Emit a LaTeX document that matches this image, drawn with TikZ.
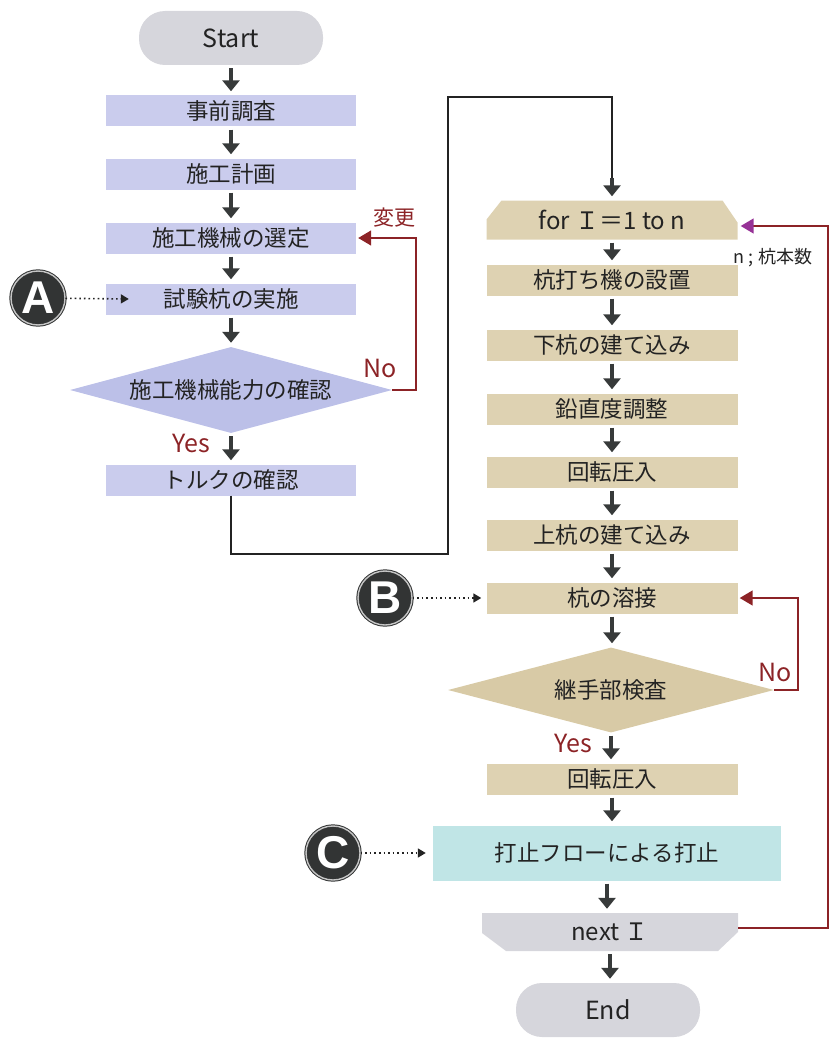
\documentclass[tikz,border=0pt]{standalone}
\usepackage{fontspec}
\setmainfont{Noto Sans CJK JP}
\newfontfamily\markfont{Liberation Sans}
\usetikzlibrary{arrows.meta,shapes.geometric}

\definecolor{inkdark}{RGB}{35,35,35}
\definecolor{arrowdark}{RGB}{55,58,58}
\definecolor{lavender}{RGB}{202,204,237}
\definecolor{lavdeep}{RGB}{188,192,232}
\definecolor{sand}{RGB}{222,210,178}
\definecolor{sanddeep}{RGB}{216,202,166}
\definecolor{aqua}{RGB}{192,229,230}
\definecolor{termgray}{RGB}{214,214,220}
\definecolor{redbrown}{RGB}{140,35,38}
\definecolor{violet}{RGB}{150,50,150}
\definecolor{markdark}{RGB}{50,52,52}

\begin{document}
\begin{tikzpicture}[x=1pt,y=-1pt,
    every node/.style={text=inkdark, font=\fontsize{22.5}{25}\selectfont},
    terminal/.style={rectangle, rounded corners=26pt, fill=termgray, minimum width=184pt,
      minimum height=54pt, font=\fontsize{25}{28}\selectfont},
    prepbox/.style={rectangle, fill=lavender, minimum width=250pt, minimum height=31pt, inner sep=0pt},
    pilebox/.style={rectangle, fill=sand, minimum width=251pt, minimum height=31pt, inner sep=0pt},
    decide/.style={diamond, aspect=3.75, inner sep=0pt, minimum width=322pt, minimum height=86pt},
    loopfor/.style={rectangle, minimum width=251pt, minimum height=39pt, inner sep=0pt,
      font=\fontsize{24}{27}\selectfont,
      path picture={\fill[sand] ([yshift=-19pt]path picture bounding box.north west)
        -- ([xshift=15pt]path picture bounding box.north west)
        -- ([xshift=-15pt]path picture bounding box.north east)
        -- ([yshift=-22pt]path picture bounding box.north east)
        -- (path picture bounding box.south east) -- (path picture bounding box.south west) -- cycle;}},
    loopnext/.style={rectangle, minimum width=256pt, minimum height=38pt, inner sep=0pt,
      font=\fontsize{24}{27}\selectfont,
      path picture={\fill[termgray] (path picture bounding box.north west)
        -- (path picture bounding box.north east)
        -- ([yshift=19pt]path picture bounding box.south east)
        -- ([xshift=-20pt]path picture bounding box.south east)
        -- ([xshift=24pt]path picture bounding box.south west)
        -- ([yshift=18pt]path picture bounding box.south west) -- cycle;}},
    marker/.style={circle, fill=markdark, draw=markdark, double=gray!45, double distance=1.4pt,
      line width=1pt, minimum size=54pt, inner sep=0pt, text=white,
      font=\markfont\bfseries\fontsize{46}{46}\selectfont},
    answer/.style={text=redbrown, font=\fontsize{25}{28}\selectfont},
    flow/.style={draw=arrowdark, line width=4.5pt, -{Triangle[width=17pt,length=11pt]},
      shorten <=3pt, shorten >=4pt},
    retry/.style={draw=redbrown, line width=1.5pt, -{Triangle[width=15pt,length=13pt]}, shorten >=2pt},
    pointer/.style={draw=inkdark, line width=1.6pt, dash pattern=on 1.6pt off 3pt,
      -{Triangle[width=9pt,length=8pt]}}]
   \useasboundingbox (0,0) rectangle (837,1038);

   % preparation
   \node[terminal] (start) at (231,38) {Start};
   \node[prepbox] (survey) at (231,111) {事前調査};
   \node[prepbox] (plan) at (231,174) {施工計画};
   \node[prepbox] (select) at (231,238) {施工機械の選定};
   \node[prepbox] (test) at (231,299) {試験杭の実施};
   \node[decide, fill=lavdeep] (capcheck) at (231,390) {施工機械能力の確認};
   \node[prepbox] (torque) at (231,480) {トルクの確認};

   % pile loop
   \node[loopfor] (for) at (612,220) {for Ｉ＝1 to n};
   \node (count) at (773,258) [font=\fontsize{18}{20}\selectfont] {n ; 杭本数};
   \node[pilebox] (setup) at (612,280) {杭打ち機の設置};
   \node[pilebox] (lower) at (612,345) {下杭の建て込み};
   \node[pilebox] (plumb) at (612,409) {鉛直度調整};
   \node[pilebox] (press1) at (612,472) {回転圧入};
   \node[pilebox] (upper) at (612,535) {上杭の建て込み};
   \node[pilebox] (weld) at (612,598) {杭の溶接};
   \node[decide, fill=sanddeep, minimum width=326pt, minimum height=85pt] (joint) at (611,690) {継手部検査};
   \node[pilebox] (press2) at (612,779) {回転圧入};
   \node[rectangle, fill=aqua, minimum width=348pt, minimum height=55pt] (stop) at (607,853) {打止フローによる打止};
   \node[loopnext] (next) at (610,932) {next Ｉ};
   \node[terminal] (fin) at (608,1010) {End};

   % markers
   \node[marker] (markA) at (38,298) {A};
   \node[marker] (markB) at (385,598) {B};
   \node[marker] (markC) at (333,853) {C};

   % labels
   \node[answer] (noA) at (380,368) {No};
   \node[answer] (yesA) at (191,443) {Yes};
   \node[answer, font=\fontsize{21}{24}\selectfont] (change) at (394,218) {変更};
   \node[answer] (noB) at (775,672) {No};
   \node[answer] (yesB) at (573,743) {Yes};

   \foreach \a/\b in {start/survey, survey/plan, plan/select, select/test, test/capcheck, capcheck/torque,
       for/setup, setup/lower, lower/plumb, plumb/press1, press1/upper, upper/weld, weld/joint,
       joint/press2, press2/stop, stop/next, next/fin}
     \draw[flow] (\a.south) -- (\a.south |- \b.north);

   % link to pile loop
   \coordinate (lowbend) at (448,554);
   \coordinate (highbend) at (448,97);
   \coordinate (forin) at (612,178);
   \draw[inkdark, line width=1.5pt] (torque.south) |- (lowbend) -- (highbend) -| (forin);
   \draw[flow, shorten <=0pt] (forin) -- (for.north);

   \draw[retry] (capcheck.east) -- ++(24,0) |- (select.east);
   \draw[retry] (joint.east) -- ++(24,0) |- (weld.east);
   \draw[redbrown, line width=1.5pt, -{Triangle[width=15pt,length=13pt,color=violet]}, shorten >=3pt]
     ([yshift=4pt]next.east) -- ++(90,0) |- ([yshift=-6pt]for.east);

   \draw[pointer] (markA) -- ([xshift=23pt]test.west);
   \draw[pointer] (markB) -- ([xshift=-5pt]weld.west);
   \draw[pointer] (markC) -- ([xshift=-7pt]stop.west);
 \end{tikzpicture}
\end{document}
